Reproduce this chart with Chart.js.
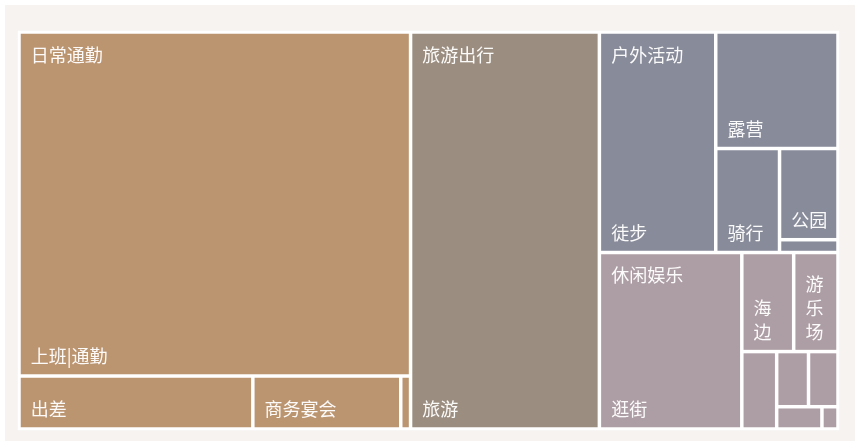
<!DOCTYPE html>
<html>
<head>
<meta charset="utf-8">
<script src="https://cdn.jsdelivr.net/npm/chart.js@4/dist/chart.umd.min.js"></script>
<style>
  html, body { margin: 0; padding: 0; background: #ffffff; }
  #panel { position: absolute; left: 5px; top: 5px; width: 850px; height: 436px; background: #f6f3f0; }
  #wrap { position: absolute; left: 0; top: 0; width: 855px; height: 441px; }
</style>
</head>
<body>
<div id="panel"></div>
<div id="wrap"><canvas id="chart"></canvas></div>
<script>
// groups
var groupNames = ["日常通勤", "旅游出行", "户外活动", "休闲娱乐"]
var groupColours = ["#bb9470", "#9b8d7f", "#888b99", "#ad9da4"]

// leaves of each group ("" = label not readable in the picture)
var commuteNames = ["上班|通勤", "出差", "商务宴会", ""]
var commuteValues = [414.2, 38.1, 24.1, 1.6]

var travelNames = ["旅游"]
var travelValues = [230.5]

var outdoorNames = ["徒步", "露营", "骑行", "公园", ""]
var outdoorValues = [78.9, 43.8, 20.4, 16.4, 2.3]

var leisureNames = ["逛街", "海边", "游乐场", "", "", "", "", ""]
var leisureValues = [77.3, 15.8, 13.5, 8.3, 5.4, 5.0, 3.1, 1.1]

var leafNames = [commuteNames, travelNames, outdoorNames, leisureNames]
var leafValues = [commuteValues, travelValues, outdoorValues, leisureValues]

// how many items go in each strip (strip runs along the shorter side)
var topStrips = [1, 1, 1, 1]
var groupStrips = [[1, 1, 1, 1], [1], [1, 1, 1, 1, 1], [1, 2, 1, 2, 1, 1]]

function sum(arr) {
  return arr.reduce(function(a, b) { return a + b }, 0)
}

// lay values out in data units; sx, sy turn data units into pixels
function layoutStrips(values, rect, strips, sx, sy) {
  var out = []
  var r = { x: rect.x, y: rect.y, w: rect.w, h: rect.h }
  var i = 0
  strips.forEach(function(n) {
    var items = values.slice(i, i + n)
    var s = sum(items)
    var total = sum(values.slice(i))
    var frac = total ? s / total : 0
    if (r.w * sx <= r.h * sy) {
      // horizontal strip on top, items left to right
      var sh = r.h * frac
      var cx = r.x
      items.forEach(function(v) {
        var w = r.w * v / s
        out.push({ x: cx, y: r.y, w: w, h: sh })
        cx += w
      })
      r.y += sh
      r.h -= sh
    } else {
      // vertical strip on the left, items top to bottom
      var sw = r.w * frac
      var cy = r.y
      items.forEach(function(v) {
        var h = r.h * v / s
        out.push({ x: r.x, y: cy, w: sw, h: h })
        cy += h
      })
      r.x += sw
      r.w -= sw
    }
    i += n
  })
  return out
}

var font = "18px 'Noto Sans CJK SC', 'Noto Sans', sans-serif"
var pad = 10
var lineH = 24
var inset = 1.75

var treemapPlugin = {
  id: "treemap",
  beforeDatasetsDraw: function(chart) {
    var ctx = chart.ctx
    var xs = chart.scales.x
    var ys = chart.scales.y
    var area = chart.chartArea
    var sx = Math.abs(xs.getPixelForValue(1) - xs.getPixelForValue(0))
    var sy = Math.abs(ys.getPixelForValue(1) - ys.getPixelForValue(0))

    function toPx(r) {
      var x0 = xs.getPixelForValue(r.x)
      var x1 = xs.getPixelForValue(r.x + r.w)
      var y0 = ys.getPixelForValue(r.y)
      var y1 = ys.getPixelForValue(r.y + r.h)
      return { left: Math.min(x0, x1) + inset, right: Math.max(x0, x1) - inset,
               top: Math.min(y0, y1) + inset, bottom: Math.max(y0, y1) - inset }
    }

    ctx.save()
    ctx.fillStyle = "#ffffff"
    ctx.fillRect(area.left - 1.25, area.top - 1.25, area.right - area.left + 2.5, area.bottom - area.top + 2.5)

    var groupTotals = leafValues.map(sum)
    var groups = layoutStrips(groupTotals, { x: 0, y: 0, w: 100, h: 100 }, topStrips, sx, sy)

    ctx.font = font
    ctx.textBaseline = "middle"
    ctx.textAlign = "left"

    groups.forEach(function(g, gi) {
      var leaves = layoutStrips(leafValues[gi], g, groupStrips[gi], sx, sy)
      leaves.forEach(function(l, li) {
        var p = toPx(l)
        var w = p.right - p.left
        var h = p.bottom - p.top
        if (w <= 0 || h <= 0) return
        ctx.fillStyle = groupColours[gi]
        ctx.fillRect(p.left, p.top, w, h)

        var name = leafNames[gi][li]
        if (!name) return
        var lines = [name]
        if (ctx.measureText(name).width + 2 * pad - 2 > w) lines = name.split("")
        var widest = Math.max.apply(null, lines.map(function(t) { return ctx.measureText(t).width }))
        if (widest + 2 * pad - 2 > w || lines.length * lineH + 8 > h) return
        ctx.fillStyle = "rgba(255, 255, 255, 0.96)"
        lines.forEach(function(t, k) {
          ctx.fillText(t, p.left + pad, p.bottom - 18 - (lines.length - 1 - k) * lineH)
        })
      })

      var gp = toPx(g)
      ctx.fillStyle = "rgba(255, 255, 255, 0.96)"
      ctx.fillText(groupNames[gi], gp.left + pad, gp.top + 21)
    })
    ctx.restore()
  }
}

new Chart(document.getElementById("chart"), {
  type: "scatter",
  data: { datasets: [{ data: [] }] },
  options: {
    responsive: true,
    maintainAspectRatio: false,
    animation: false,
    layout: { padding: { left: 19, top: 32, right: 17, bottom: 12 } },
    scales: {
      x: { type: "linear", min: 0, max: 100, display: false },
      y: { type: "linear", min: 0, max: 100, reverse: true, display: false }
    },
    plugins: {
      legend: { display: false },
      tooltip: { enabled: false }
    }
  },
  plugins: [treemapPlugin]
})
</script>
</body>
</html>
